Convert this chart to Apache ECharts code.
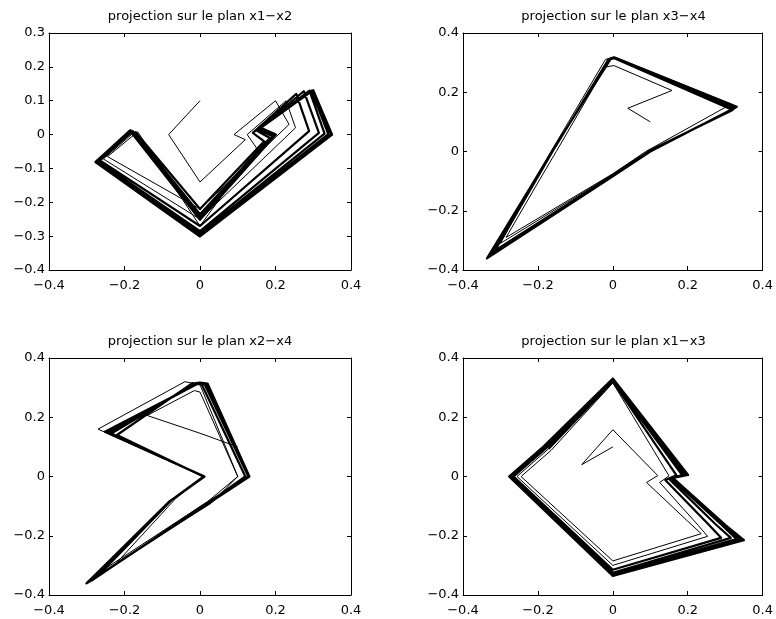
<!DOCTYPE html>
<html>
<head>
<meta charset="utf-8">
<script src="https://cdn.jsdelivr.net/npm/echarts@6/dist/echarts.min.js"></script>
<style>
html, body { margin: 0; padding: 0; background: #fff; }
#chart { width: 776px; height: 619px; }
</style>
</head>
<body>
<div id="chart"></div>
<script>
// State trajectory of the 4-D switched system, one entry per switching vertex.
// Start point, transient loops, then the loops settling onto the limit cycle.
const x1 = [
  0, -0.083, 0, 0.12, 0.09, 0.20, 0.236, 0, -0.245, -0.165,
  0, 0.15, 0.125, 0.228, 0.253, 0, -0.256, -0.172,
  0, 0.17, 0.14, 0.255, 0.289, 0, -0.265, -0.178,
  0, 0.185, 0.15, 0.275, 0.315, 0, -0.27, -0.181,
  0, 0.192, 0.155, 0.29, 0.33, 0, -0.273, -0.183,
  0, 0.197, 0.158, 0.295, 0.34, 0, -0.275, -0.184,
  0, 0.2, 0.16, 0.298, 0.347, 0, -0.276, -0.185,
  0, 0.201, 0.161, 0.3, 0.35, 0, -0.277, -0.186,
  0
];
const x2 = [
  0.10, 0, -0.14, -0.015, 0, 0.10, 0.03, -0.22, -0.065, 0.008,
  -0.27, -0.04, 0, 0.10, 0.02, -0.25, -0.072, 0.009,
  -0.22, -0.02, 0.005, 0.12, 0.01, -0.27, -0.076, 0.01,
  -0.235, -0.01, 0.012, 0.128, 0.005, -0.285, -0.078, 0.011,
  -0.242, -0.005, 0.015, 0.13, 0.003, -0.292, -0.08, 0.012,
  -0.247, -0.002, 0.018, 0.13, 0.001, -0.297, -0.08, 0.012,
  -0.25, 0, 0.02, 0.13, 0, -0.3, -0.08, 0.012,
  -0.252, 0, 0.02, 0.131, 0, -0.301, -0.081, 0.012,
  -0.252
];
const x3 = [
  0.10, 0.04, 0.158, 0.003, -0.02, -0.151, -0.193, -0.285, 0, 0.088,
  0.316, 0.002, -0.02, -0.165, -0.202, -0.30, 0, 0.093,
  0.32, 0.004, -0.012, -0.161, -0.207, -0.315, 0, 0.096,
  0.324, 0.005, -0.008, -0.162, -0.207, -0.325, 0, 0.098,
  0.327, 0.005, -0.006, -0.163, -0.211, -0.33, 0, 0.099,
  0.329, 0.005, -0.005, -0.163, -0.212, -0.333, 0, 0.1,
  0.33, 0.005, -0.005, -0.163, -0.214, -0.335, 0, 0.1,
  0.331, 0.005, -0.005, -0.163, -0.215, -0.336, 0, 0.1,
  0.331
];
const x4 = [
  0.10, 0.146, 0.206, 0.29, 0.285, 0, -0.09, -0.29, -0.075, 0,
  0.16, 0.32, 0.31, 0, -0.085, -0.31, -0.077, 0,
  0.14, 0.315, 0.31, 0, -0.1, -0.335, -0.08, 0,
  0.145, 0.316, 0.312, 0, -0.1, -0.35, -0.082, 0,
  0.148, 0.316, 0.313, 0, -0.105, -0.355, -0.083, 0,
  0.149, 0.316, 0.313, 0, -0.108, -0.358, -0.084, 0,
  0.15, 0.317, 0.314, 0, -0.11, -0.36, -0.084, 0,
  0.151, 0.317, 0.314, 0, -0.11, -0.361, -0.084, 0,
  0.151
];
// vertex index where the trajectory has settled near the limit cycle
const settleStart = 17;

const panelTitles = [
  'projection sur le plan x1\u2212x2',
  'projection sur le plan x3\u2212x4',
  'projection sur le plan x2\u2212x4',
  'projection sur le plan x1\u2212x3'
];
// [horizontal, vertical] state components shown in each panel
const panelPairs = [[x1, x2], [x3, x4], [x2, x4], [x1, x3]];
// axis ranges: [xmin, xmax, xstep, ymin, ymax, ystep]
const panelRanges = [
  [-0.4, 0.4, 0.2, -0.4, 0.3, 0.1],
  [-0.4, 0.4, 0.2, -0.4, 0.4, 0.2],
  [-0.4, 0.4, 0.2, -0.4, 0.4, 0.2],
  [-0.4, 0.4, 0.2, -0.4, 0.4, 0.2]
];

const FONT = 'DejaVu Sans';
const grids = [
  { left: 49,  top: 33,  width: 302, height: 237 },
  { left: 463, top: 33,  width: 301, height: 237 },
  { left: 49,  top: 358, width: 302, height: 237 },
  { left: 463, top: 358, width: 301, height: 237 }
];

function tickText(v) {
  const s = (Math.round(v * 10) / 10).toString();
  return s.replace('-', '\u2212');
}

function axis(gridIndex, min, max, step, position, labelled, isX) {
  return {
    type: 'value',
    gridIndex: gridIndex,
    min: min,
    max: max,
    interval: step,
    position: position,
    axisLine: { show: true, onZero: false, lineStyle: { color: '#000', width: 1 } },
    axisTick: { show: true, inside: true, length: 4, lineStyle: { color: '#000', width: 1 } },
    axisLabel: {
      show: labelled,
      formatter: tickText,
      color: '#000',
      fontFamily: FONT,
      fontSize: 13,
      margin: isX ? 9 : 4
    },
    splitLine: { show: false }
  };
}

const xAxes = [];
const yAxes = [];
grids.forEach(function (g, i) {
  const r = panelRanges[i];
  xAxes.push(axis(i, r[0], r[1], r[2], 'bottom', true, true));
  xAxes.push(axis(i, r[0], r[1], r[2], 'top', false, true));
  yAxes.push(axis(i, r[3], r[4], r[5], 'left', true, false));
  yAxes.push(axis(i, r[3], r[4], r[5], 'right', false, false));
});

function pairs(p, from, to) {
  const out = [];
  for (let k = from; k < to; k++) out.push([p[0][k], p[1][k]]);
  return out;
}

const series = [];
panelPairs.forEach(function (p, i) {
  // early transient, drawn thin
  series.push({
    type: 'line', xAxisIndex: 2 * i, yAxisIndex: 2 * i,
    data: pairs(p, 0, settleStart + 1),
    showSymbol: false, symbol: 'none', silent: true, clip: true,
    lineStyle: { color: '#000', width: 1, join: 'round' }
  });
  // loops bunching up on the limit cycle
  series.push({
    type: 'line', xAxisIndex: 2 * i, yAxisIndex: 2 * i,
    data: pairs(p, settleStart, p[0].length),
    showSymbol: false, symbol: 'none', silent: true, clip: true,
    lineStyle: { color: '#000', width: 2.2, join: 'round' }
  });
});

const chart = echarts.init(document.getElementById('chart'), null, { renderer: 'canvas' });
chart.setOption({
  backgroundColor: '#fff',
  animation: false,
  title: panelTitles.map(function (t, i) {
    return {
      text: t,
      left: grids[i].left + grids[i].width / 2,
      top: grids[i].top - 23,
      textAlign: 'center',
      padding: 0,
      textStyle: { fontFamily: FONT, fontSize: 13, fontWeight: 'normal', color: '#000' }
    };
  }),
  grid: grids.map(function (g) {
    return { left: g.left, top: g.top, width: g.width, height: g.height, containLabel: false };
  }),
  xAxis: xAxes,
  yAxis: yAxes,
  series: series
});
</script>
</body>
</html>
